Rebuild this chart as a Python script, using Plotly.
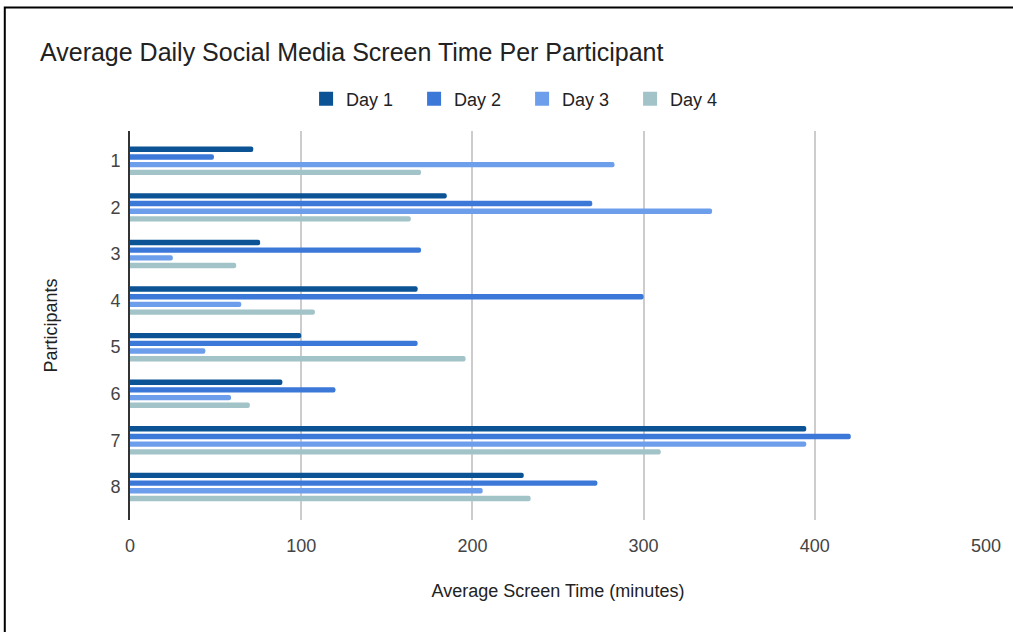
import plotly.graph_objects as go

# Average daily social-media screen time (minutes) for each participant
participants = ["1", "2", "3", "4", "5", "6", "7", "8"]
day1 = [72, 185, 76, 168, 100, 89, 395, 230]
day2 = [49, 270, 170, 300, 168, 120, 421, 273]
day3 = [283, 340, 25, 65, 44, 59, 395, 206]
day4 = [170, 164, 62, 108, 196, 70, 310, 234]

series_names = ["Day 1", "Day 2", "Day 3", "Day 4"]
series_values = [day1, day2, day3, day4]
series_colors = ["#0b5394", "#3c78d8", "#6d9eeb", "#a2c4c9"]

x_ticks = [0, 100, 200, 300, 400, 500]

W, H = 1013, 632
ML, MR, MT, MB = 130, 25, 131, 112
PW, PH = W - ML - MR, H - MT - MB


def px_x(p):
    return (p - ML) / PW


def px_y(p):
    return (H - MB - p) / PH


FONT = "Liberation Sans, Arial, sans-serif"

fig = go.Figure()
for name, vals, col in zip(series_names, series_values, series_colors):
    fig.add_trace(go.Bar(
        name=name,
        x=vals,
        y=participants,
        orientation="h",
        showlegend=False,
        marker=dict(color=col, line=dict(width=0), cornerradius=2.5),
    ))

# Square swatches for the legend (bars' own swatches are too small)
for name, col in zip(series_names, series_colors):
    fig.add_trace(go.Scatter(
        name=name,
        x=[None],
        y=[None],
        mode="markers",
        marker=dict(symbol="square", size=14, color=col),
        showlegend=True,
        hoverinfo="skip",
    ))

fig.update_layout(
    width=W,
    height=H,
    margin=dict(l=ML, r=MR, t=MT, b=MB, pad=0),
    paper_bgcolor="white",
    plot_bgcolor="white",
    barmode="group",
    bargap=0.34,
    bargroupgap=0.3,
    font=dict(family=FONT, color="#222222"),
    title=dict(
        text="Average Daily Social Media Screen Time Per Participant",
        x=40 / W, xanchor="left",
        y=1 - 52 / H, yanchor="middle",
        font=dict(size=25, color="#222222", family=FONT),
    ),
    legend=dict(
        orientation="h",
        x=px_x(523), xanchor="center",
        y=px_y(99), yanchor="middle",
        font=dict(size=18, color="#222222"),
        bgcolor="rgba(0,0,0,0)",
        traceorder="normal",
        entrywidth=63,
        entrywidthmode="pixels",
    ),
    xaxis=dict(
        range=[0, 500],
        tickvals=x_ticks,
        showgrid=True,
        gridcolor="#cccccc",
        gridwidth=2,
        zeroline=False,
        showline=False,
        ticks="outside",
        ticklen=9,
        tickcolor="rgba(0,0,0,0)",
        tickfont=dict(size=18, color="#444444"),
        title=dict(text="Average Screen Time (minutes)", standoff=29,
                   font=dict(size=18, color="#222222")),
        fixedrange=True,
    ),
    yaxis=dict(
        type="category",
        categoryorder="array",
        categoryarray=participants,
        range=[7.71, -0.64],
        showgrid=False,
        zeroline=False,
        showline=True,
        linecolor="#333333",
        linewidth=2,
        ticks="outside",
        ticklen=4,
        tickcolor="rgba(0,0,0,0)",
        tickfont=dict(size=18, color="#444444"),
        title=dict(text="Participants", standoff=48,
                   font=dict(size=18, color="#222222")),
        fixedrange=True,
    ),
    shapes=[
        dict(type="rect", xref="paper", yref="paper",
             x0=px_x(4.5), x1=px_x(1100), y0=px_y(7.5), y1=px_y(700),
             line=dict(color="black", width=2), fillcolor="rgba(0,0,0,0)",
             layer="above"),
    ],
)

fig.write_html("out.html")
